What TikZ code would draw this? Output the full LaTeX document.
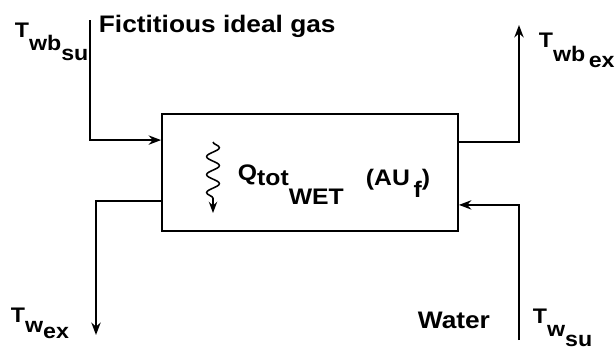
\documentclass[tikz,border=0pt]{standalone}
\usepackage{fontspec}
\setmainfont{Liberation Sans}[FakeStretch=1.1]
\usetikzlibrary{arrows.meta,calc,decorations.pathmorphing}
\newcommand{\sublow}[2][0.5em]{\raisebox{-#1}{#2}}

\begin{document}
\begin{tikzpicture}[>=Stealth, line width=1.3pt, font=\fontsize{16}{18}\selectfont\bfseries,
  lbl/.style={anchor=base west, inner sep=0pt},
  tlbl/.style={lbl, font=\fontsize{15}{17}\selectfont\bfseries},
  biglbl/.style={lbl, font=\fontsize{17}{20}\selectfont\bfseries}]
\useasboundingbox (0,0) rectangle (15.4,8.85);
\node[draw,minimum width=7.4cm,minimum height=2.925cm] (hx) at (7.75,4.5375) {};

\coordinate (gsu) at (2.25,8.35);
\coordinate (gex) at (12.975,8.225);
\coordinate (wex) at (2.4,0.475);
\coordinate (wsu) at (12.975,0.35);
\coordinate (qtop) at (5.325,5.3);
\coordinate (qbot) at (5.325,3.525);

\draw[->] (gsu) |- ($(hx.north west)+(0,-0.675)$);
\draw[->] ($(hx.north east)+(0,-0.725)$) -| (gex);
\draw[->] ($(hx.south west)+(0,0.775)$) -| (wex);
\draw[->] (wsu) |- ($(hx.south east)+(0,0.675)$);
\draw[->, line width=1.1pt, decorate, decoration={snake, amplitude=0.16cm, segment length=0.45cm, post length=2mm}] (qtop) -- (qbot);

\node[tlbl] (twbsu) at (0.35,7.925) {T\sublow[0.65em]{wb\sublow[0.45em]{su}}};
\node[biglbl] (gas) at (2.45,8.05) {Fictitious ideal gas};
\node[tlbl] (twbex) at (13.45,7.675) {T\sublow[0.7em]{wb\sublow[0.25em]{\,ex}}};
\node[lbl] (qtot) at (5.925,4.35) {Q\sublow[0.25em]{tot\sublow[0.85em]{WET}}};
\node[lbl] (auf) at (9.125,4.225) {(AU\,\sublow[0.55em]{f})};
\node[tlbl] (twex) at (0.25,0.8) {T\sublow[0.5em]{w\sublow[0.3em]{ex}}};
\node[biglbl] (water) at (10.425,0.65) {Water};
\node[tlbl] (twsu) at (13.3,0.775) {T\sublow[0.65em]{w\sublow[0.45em]{su}}};
\end{tikzpicture}
\end{document}
